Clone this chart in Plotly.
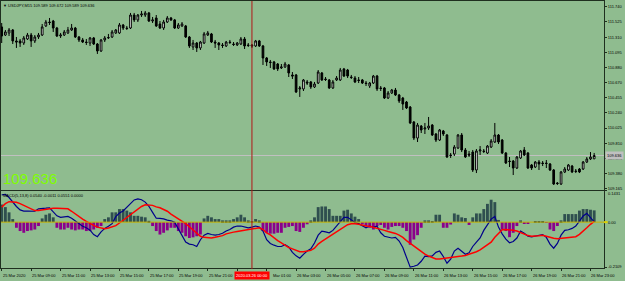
import plotly.graph_objects as go

# ---------------- data (USDJPY M15, bar index 0 = 25 Mar 07:00) ----------------
open_ = [111.454, 111.340, 111.369, 111.411, 111.256, 111.256, 111.227, 111.284, 111.340, 111.256,
         111.312, 111.340, 111.468, 111.524, 111.538, 111.439, 111.326, 111.340, 111.369, 111.411,
         111.439, 111.312, 111.270, 111.241, 111.227, 111.298, 111.213, 111.114, 111.270, 111.298,
         111.312, 111.369, 111.369, 111.482, 111.439, 111.439, 111.623, 111.553, 111.623, 111.623,
         111.652, 111.538, 111.581, 111.496, 111.439, 111.524, 111.581, 111.553, 111.439, 111.468,
         111.468, 111.312, 111.171, 111.227, 111.157, 111.227, 111.340, 111.355, 111.241, 111.227,
         111.199, 111.185, 111.241, 111.213, 111.199, 111.213, 111.284, 111.199, 111.199, 111.185,
         111.256, 111.185, 111.015, 110.959, 110.959, 110.930, 110.874, 110.888, 110.916, 110.775,
         110.775, 110.577, 110.577, 110.676, 110.676, 110.605, 110.661, 110.803, 110.718, 110.704,
         110.591, 110.704, 110.704, 110.860, 110.845, 110.746, 110.732, 110.704, 110.704, 110.661,
         110.619, 110.661, 110.760, 110.591, 110.591, 110.449, 110.520, 110.562, 110.492, 110.449,
         110.393, 110.322, 110.110, 109.883, 110.053, 110.011, 110.025, 110.067, 109.940, 109.855,
         109.983, 109.926, 109.643, 109.657, 109.742, 109.926, 109.714, 109.657, 109.685, 109.431,
         109.700, 109.700, 109.671, 109.756, 109.827, 109.926, 109.855, 109.671, 109.558, 109.558,
         109.459, 109.601, 109.714, 109.671, 109.502, 109.473, 109.544, 109.530, 109.530, 109.516,
         109.431, 109.247, 109.233, 109.403, 109.431, 109.487, 109.417, 109.445, 109.445, 109.544,
         109.587, 109.589]

high = [111.510, 111.411, 111.439, 111.425, 111.312, 111.284, 111.326, 111.369, 111.369, 111.340,
        111.369, 111.496, 111.553, 111.581, 111.553, 111.454, 111.369, 111.411, 111.454, 111.496,
        111.454, 111.326, 111.298, 111.284, 111.312, 111.312, 111.227, 111.284, 111.326, 111.355,
        111.411, 111.425, 111.510, 111.496, 111.468, 111.652, 111.652, 111.637, 111.680, 111.680,
        111.666, 111.595, 111.623, 111.538, 111.553, 111.609, 111.595, 111.567, 111.510, 111.524,
        111.482, 111.326, 111.270, 111.241, 111.256, 111.383, 111.397, 111.369, 111.270, 111.241,
        111.227, 111.256, 111.270, 111.241, 111.241, 111.312, 111.312, 111.227, 111.213, 111.270,
        111.270, 111.199, 111.029, 110.987, 110.973, 110.944, 110.930, 110.959, 110.930, 110.817,
        110.789, 110.619, 110.718, 110.704, 110.690, 110.676, 110.845, 110.817, 110.746, 110.718,
        110.704, 110.760, 110.874, 110.874, 110.860, 110.775, 110.760, 110.746, 110.718, 110.690,
        110.676, 110.775, 110.775, 110.619, 110.605, 110.548, 110.577, 110.591, 110.506, 110.464,
        110.407, 110.336, 110.124, 110.096, 110.067, 110.096, 110.181, 110.081, 109.954, 110.011,
        109.997, 109.940, 109.671, 109.784, 109.940, 109.954, 109.742, 109.700, 109.714, 109.728,
        109.770, 109.728, 109.784, 109.869, 110.096, 109.940, 109.869, 109.685, 109.615, 109.572,
        109.629, 109.714, 109.756, 109.685, 109.516, 109.558, 109.572, 109.558, 109.572, 109.530,
        109.445, 109.261, 109.417, 109.473, 109.516, 109.502, 109.445, 109.459, 109.558, 109.615,
        109.685, 109.672]

low = [111.227, 111.326, 111.326, 111.213, 111.157, 111.171, 111.199, 111.270, 111.171, 111.227,
       111.284, 111.326, 111.454, 111.482, 111.383, 111.312, 111.298, 111.326, 111.355, 111.397,
       111.298, 111.241, 111.227, 111.199, 111.185, 111.199, 111.072, 111.100, 111.241, 111.284,
       111.298, 111.355, 111.355, 111.411, 111.411, 111.425, 111.524, 111.524, 111.595, 111.595,
       111.524, 111.510, 111.454, 111.425, 111.411, 111.510, 111.538, 111.425, 111.425, 111.454,
       111.298, 111.157, 111.128, 111.100, 111.128, 111.213, 111.326, 111.227, 111.157, 111.128,
       111.157, 111.171, 111.213, 111.185, 111.185, 111.199, 111.142, 111.171, 111.157, 111.171,
       111.171, 110.916, 110.902, 110.874, 110.845, 110.831, 110.860, 110.874, 110.746, 110.718,
       110.520, 110.464, 110.548, 110.633, 110.577, 110.591, 110.647, 110.690, 110.690, 110.577,
       110.577, 110.690, 110.690, 110.746, 110.732, 110.718, 110.661, 110.661, 110.647, 110.619,
       110.591, 110.647, 110.548, 110.548, 110.435, 110.435, 110.506, 110.478, 110.379, 110.280,
       110.294, 110.081, 109.855, 109.827, 109.954, 109.940, 109.997, 109.912, 109.827, 109.841,
       109.912, 109.601, 109.601, 109.629, 109.728, 109.685, 109.601, 109.615, 109.403, 109.388,
       109.643, 109.671, 109.657, 109.742, 109.813, 109.799, 109.657, 109.516, 109.473, 109.360,
       109.445, 109.587, 109.629, 109.445, 109.431, 109.459, 109.431, 109.487, 109.459, 109.417,
       109.219, 109.219, 109.219, 109.388, 109.417, 109.388, 109.388, 109.388, 109.431, 109.530,
       109.572, 109.589]

close = [111.326, 111.383, 111.411, 111.256, 111.241, 111.227, 111.298, 111.340, 111.256, 111.312,
         111.340, 111.454, 111.524, 111.517, 111.439, 111.326, 111.340, 111.383, 111.411, 111.439,
         111.312, 111.270, 111.241, 111.234, 111.298, 111.213, 111.114, 111.270, 111.298, 111.305,
         111.383, 111.411, 111.482, 111.439, 111.432, 111.623, 111.553, 111.623, 111.637, 111.652,
         111.538, 111.553, 111.468, 111.439, 111.524, 111.581, 111.553, 111.439, 111.482, 111.496,
         111.312, 111.185, 111.227, 111.157, 111.241, 111.355, 111.369, 111.241, 111.227, 111.199,
         111.192, 111.241, 111.234, 111.206, 111.227, 111.284, 111.185, 111.192, 111.185, 111.256,
         111.185, 111.015, 110.959, 110.951, 110.860, 110.860, 110.888, 110.930, 110.803, 110.760,
         110.534, 110.591, 110.704, 110.661, 110.605, 110.647, 110.817, 110.704, 110.711, 110.591,
         110.676, 110.732, 110.845, 110.760, 110.760, 110.739, 110.676, 110.697, 110.661, 110.654,
         110.661, 110.760, 110.577, 110.584, 110.449, 110.520, 110.562, 110.492, 110.407, 110.364,
         110.308, 110.096, 109.883, 110.067, 109.997, 110.025, 110.053, 109.926, 109.855, 109.997,
         109.940, 109.615, 109.636, 109.756, 109.926, 109.714, 109.615, 109.643, 109.431, 109.700,
         109.714, 109.693, 109.770, 109.841, 109.926, 109.827, 109.671, 109.530, 109.551, 109.459,
         109.615, 109.700, 109.643, 109.459, 109.459, 109.544, 109.516, 109.523, 109.523, 109.431,
         109.233, 109.240, 109.403, 109.445, 109.502, 109.403, 109.410, 109.403, 109.544, 109.587,
         109.615, 109.636]

macd_hist = [0.081, 0.069, 0.045, 0.014, -0.026, -0.041, -0.049, -0.041, -0.038, -0.034,
             -0.018, 0.017, 0.034, 0.040, 0.022, -0.026, -0.034, -0.034, -0.026, -0.034,
             -0.038, -0.034, -0.034, -0.041, -0.041, -0.034, -0.026, -0.018, 0.014, 0.022,
             0.045, 0.045, 0.060, 0.060, 0.053, 0.045, 0.029, 0.029, 0.025, 0.022,
             0.006, -0.018, -0.041, -0.057, -0.049, -0.038, -0.026, -0.026, -0.041, -0.049,
             -0.065, -0.073, -0.070, -0.065, -0.057, 0.017, 0.029, 0.022, 0.014, 0.014,
             0.008, 0.008, 0.008, 0.014, 0.022, 0.034, 0.022, 0.008, 0.002, 0.014,
             0.008, -0.041, -0.049, -0.053, -0.053, -0.049, -0.049, -0.026, -0.022, -0.018,
             -0.041, -0.045, -0.026, -0.010, 0.008, 0.022, 0.069, 0.072, 0.072, 0.060,
             0.029, 0.029, 0.029, 0.053, 0.057, 0.040, 0.025, 0.014, -0.010, -0.018,
             -0.026, -0.034, -0.018, -0.013, -0.026, -0.034, -0.022, -0.018, -0.018, -0.026,
             -0.041, -0.104, -0.080, -0.060, -0.026, 0.008, 0.008, 0.002, 0.034, 0.034,
             -0.026, -0.026, -0.011, 0.040, 0.034, 0.022, 0.019, -0.013, 0.022, 0.040,
             0.040, 0.060, 0.084, 0.103, 0.092, 0.010, -0.034, -0.041, -0.069, -0.049,
             -0.018, 0.008, -0.008, -0.008, 0.000, 0.002, 0.002, 0.005, -0.003, -0.034,
             -0.041, -0.018, 0.008, 0.037, 0.037, 0.037, 0.037, 0.053, 0.060, 0.060,
             0.057, 0.054]

macd_blue = [0.125, 0.127, 0.113, 0.091, 0.072, 0.056, 0.051, 0.051, 0.052, 0.050,
             0.061, 0.061, 0.064, 0.066, 0.045, 0.029, 0.022, 0.023, 0.026, 0.018,
             0.006, -0.010, -0.019, -0.026, -0.037, -0.057, -0.067, -0.045, -0.029, -0.019,
             -0.007, 0.025, 0.042, 0.051, 0.069, 0.088, 0.102, 0.107, 0.103, 0.092,
             0.073, 0.045, 0.018, 0.017, 0.015, 0.009, 0.006, -0.001, -0.030, -0.065,
             -0.092, -0.101, -0.104, -0.112, -0.081, -0.060, -0.052, -0.057, -0.060, -0.057,
             -0.051, -0.041, -0.034, -0.023, -0.018, -0.018, -0.023, -0.026, -0.023, -0.018,
             -0.023, -0.041, -0.081, -0.098, -0.106, -0.112, -0.112, -0.104, -0.114, -0.139,
             -0.155, -0.166, -0.148, -0.133, -0.123, -0.096, -0.060, -0.041, -0.045, -0.049,
             -0.038, -0.019, 0.003, 0.022, 0.022, 0.012, -0.002, -0.007, -0.018, -0.026,
             -0.018, -0.023, -0.019, -0.049, -0.065, -0.070, -0.073, -0.070, -0.087, -0.117,
             -0.159, -0.207, -0.203, -0.197, -0.180, -0.156, -0.159, -0.155, -0.139, -0.133,
             -0.158, -0.189, -0.170, -0.133, -0.120, -0.133, -0.148, -0.141, -0.112, -0.092,
             -0.073, -0.038, -0.013, 0.014, 0.026, -0.023, -0.054, -0.078, -0.095, -0.089,
             -0.073, -0.041, -0.051, -0.065, -0.068, -0.065, -0.063, -0.057, -0.070, -0.101,
             -0.120, -0.098, -0.060, -0.038, -0.035, -0.029, -0.018, 0.006, 0.028, 0.040,
             0.022, 0.001]

macd_red = [0.069, 0.085, 0.094, 0.094, 0.091, 0.085, 0.077, 0.067, 0.058, 0.053,
            0.053, 0.056, 0.059, 0.064, 0.064, 0.064, 0.064, 0.062, 0.061, 0.050,
            0.037, 0.026, 0.014, 0.003, -0.007, -0.015, -0.023, -0.027, -0.030, -0.027,
            -0.023, -0.016, -0.004, 0.009, 0.022, 0.036, 0.048, 0.062, 0.072, 0.080,
            0.080, 0.077, 0.070, 0.066, 0.058, 0.050, 0.037, 0.026, 0.018, 0.007,
            -0.007, -0.021, -0.037, -0.051, -0.065, -0.070, -0.073, -0.073, -0.070, -0.067,
            -0.062, -0.054, -0.049, -0.046, -0.043, -0.040, -0.035, -0.032, -0.029, -0.026,
            -0.026, -0.034, -0.049, -0.059, -0.073, -0.085, -0.095, -0.106, -0.117, -0.123,
            -0.131, -0.136, -0.136, -0.133, -0.130, -0.120, -0.101, -0.089, -0.078, -0.068,
            -0.057, -0.048, -0.034, -0.023, -0.012, -0.008, -0.007, -0.010, -0.015, -0.018,
            -0.019, -0.023, -0.029, -0.034, -0.038, -0.043, -0.046, -0.052, -0.060, -0.070,
            -0.085, -0.098, -0.110, -0.123, -0.136, -0.147, -0.156, -0.164, -0.169, -0.169,
            -0.167, -0.166, -0.164, -0.163, -0.159, -0.156, -0.153, -0.148, -0.144, -0.136,
            -0.128, -0.117, -0.106, -0.092, -0.070, -0.051, -0.035, -0.034, -0.034, -0.037,
            -0.041, -0.049, -0.056, -0.062, -0.065, -0.065, -0.063, -0.060, -0.065, -0.070,
            -0.074, -0.076, -0.074, -0.073, -0.073, -0.071, -0.067, -0.056, -0.043, -0.026,
            -0.010, 0.003]

bars = list(range(len(close)))

price_ticks = [111.740, 111.525, 111.310, 111.095, 110.880, 110.670, 110.455,
               110.240, 110.025, 109.810, 109.595, 109.380, 109.165]
price_ticktext = ["111.740", "111.525", "111.310", "111.095", "110.880", "110.670", "110.455",
                  "110.240", "110.025", "109.810", "109.595", "109.380", "109.165"]
macd_ticks = [0.1431, 0.0, -0.2109]
macd_ticktext = ["0.1431", "0.00", "-0.2109"]

# time scale: label positions (bar index) and the visible label texts
time_idx = [0, 8, 16, 24, 32, 40, 48, 56, 64, 72, 80, 88, 96, 104, 112, 120, 128, 136, 144, 152, 160]
time_txt = ["25 Mar 2020", "25 Mar 09:00", "25 Mar 11:00", "25 Mar 13:00", "25 Mar 15:00",
            "25 Mar 17:00", "25 Mar 19:00", "25 Mar 21:00", "", "Mar 01:00",
            "26 Mar 03:00", "26 Mar 05:00", "26 Mar 07:00", "26 Mar 09:00", "26 Mar 11:00",
            "26 Mar 13:00", "26 Mar 15:00", "26 Mar 17:00", "26 Mar 19:00", "26 Mar 21:00",
            "26 Mar 23:00"]
# the "26 " of the 01:00 label is hidden by the vertical-line date box
time_shift = [0, 0, 0, 0, 0, 0, 0, 0, 0, 5, 0, 0, 0, 0, 0, 0, 0, 0, 0, 0, 0]

vline_idx = 68
vline_label = "2020.03.26 00:00"
last_price = 109.636
title_txt = "▼ USDJPY,M15 109.589 109.672 109.589 109.636"
macd_title = "MACD(5,13,8) 0.0540 -0.0011 0.0551 0.0000"

# ---------------- styling ----------------
BG = "#8fbc8f"
FRAME = "#1f2f1f"
FONT = "Liberation Sans"
X_RANGE = [-0.19, 163.67]
MAIN_RANGE = [109.148, 111.821]
MACD_RANGE = [-0.2109, 0.1431]
MAIN_DOMAIN = [0.2921, 1.0]
MACD_DOMAIN = [0.0, 0.2884]

fig = go.Figure()

fig.add_trace(go.Candlestick(
    x=bars, open=open_, high=high, low=low, close=close,
    increasing=dict(line=dict(color="#000000", width=1), fillcolor="#ffffff"),
    decreasing=dict(line=dict(color="#000000", width=1), fillcolor="#000000"),
    whiskerwidth=0, xaxis="x", yaxis="y", hoverinfo="skip"))

fig.add_trace(go.Bar(
    x=bars, y=macd_hist, width=0.78,
    marker=dict(color=["#2f4f4f" if v >= 0 else "#8b008b" for v in macd_hist], line=dict(width=0)),
    xaxis="x2", yaxis="y2", hoverinfo="skip"))
fig.add_trace(go.Scatter(x=bars, y=macd_blue, mode="lines",
                         line=dict(color="#00008b", width=1.2), xaxis="x2", yaxis="y2", hoverinfo="skip"))
fig.add_trace(go.Scatter(x=bars, y=macd_red, mode="lines",
                         line=dict(color="#ff0000", width=1.5), xaxis="x2", yaxis="y2", hoverinfo="skip"))

axis_common = dict(showgrid=False, zeroline=False, showline=True, mirror=True,
                   linecolor=FRAME, linewidth=1, fixedrange=True)

fig.update_layout(
    width=625, height=281,
    margin=dict(l=1, r=21, t=1, b=13),
    paper_bgcolor=BG, plot_bgcolor=BG,
    showlegend=False, hovermode=False, boxgap=0.35,
    font=dict(family=FONT, size=4, color="#000000"),
    xaxis=dict(domain=[0, 1], range=X_RANGE, anchor="y", showticklabels=False, ticks="",
               rangeslider=dict(visible=False), **axis_common),
    yaxis=dict(domain=MAIN_DOMAIN, range=MAIN_RANGE, anchor="x", side="right",
               tickvals=price_ticks, ticktext=price_ticktext, ticks="outside", ticklen=2,
               tickcolor=FRAME, tickfont=dict(size=4, family=FONT, color="#000000"), **axis_common),
    xaxis2=dict(domain=[0, 1], range=X_RANGE, anchor="y2", tickvals=time_idx,
                ticktext=[""] * len(time_idx), ticks="outside", ticklen=2, tickcolor=FRAME,
                **axis_common),
    yaxis2=dict(domain=MACD_DOMAIN, range=MACD_RANGE, anchor="x2", side="right",
                tickvals=macd_ticks, ticktext=[""] * len(macd_ticks), ticks="outside", ticklen=2,
                tickcolor=FRAME, **axis_common),
)

shapes = [
    # bid line
    dict(type="line", xref="paper", yref="y", x0=0, x1=1, y0=last_price, y1=last_price,
         line=dict(color="#c0c0c0", width=1), layer="below"),
    # MACD zero level
    dict(type="line", xref="paper", yref="y2", x0=0, x1=1, y0=0, y1=0,
         line=dict(color="#c8b400", width=1), layer="above"),
    dict(type="line", xref="paper", yref="y2", x0=1, x1=1.006, y0=0, y1=0,
         line=dict(color="#e0d000", width=2), layer="above"),
    # vertical line
    dict(type="line", xref="x", yref="paper", x0=vline_idx, x1=vline_idx, y0=-0.004, y1=1,
         line=dict(color="#b01818", width=1), layer="above"),
]
fig.update_layout(shapes=shapes)

annotations = []
for idx, txt, sh in zip(time_idx, time_txt, time_shift):
    if not txt:
        continue
    annotations.append(dict(x=idx, xref="x2", xshift=sh, y=-0.027, yref="paper", text=txt,
                            showarrow=False, xanchor="left", yanchor="middle", borderpad=0,
                            font=dict(size=4, family=FONT, color="#000000")))
annotations.append(dict(x=vline_idx, xref="x2", y=-0.027, yref="paper", text=vline_label,
                        showarrow=False, xanchor="center", yanchor="middle", bgcolor="#ff0000",
                        borderpad=1, font=dict(size=4, family=FONT, color="#ffffff")))
# MACD scale labels (top label sits just below the window edge, as in the terminal)
macd_shift = [-3, 0, 1]
for val, txt, sh in zip(macd_ticks, macd_ticktext, macd_shift):
    annotations.append(dict(x=1, xref="paper", xshift=3, y=val, yref="y2", yshift=sh, text=txt,
                            showarrow=False, xanchor="left", yanchor="middle", borderpad=0,
                            font=dict(size=4, family=FONT, color="#000000")))
annotations.append(dict(x=0, xref="paper", xshift=1, y=1, yref="paper", yshift=-1, text=title_txt,
                        showarrow=False, xanchor="left", yanchor="top", borderpad=0,
                        font=dict(size=4, family=FONT, color="#000000")))
annotations.append(dict(x=0, xref="paper", xshift=1, y=MACD_DOMAIN[1], yref="paper", yshift=-1,
                        text=macd_title, showarrow=False, xanchor="left", yanchor="top", borderpad=0,
                        font=dict(size=4, family=FONT, color="#000000")))
annotations.append(dict(x=0, xref="paper", xshift=1, y=109.289, yref="y", yshift=2, text="109.636",
                        showarrow=False, xanchor="left", yanchor="middle", borderpad=0,
                        font=dict(size=15, family=FONT, color="#7fff00")))
annotations.append(dict(x=1, xref="paper", xshift=1, y=last_price, yref="y", text="109.636",
                        showarrow=False, xanchor="left", yanchor="middle", bgcolor="#c0c0c0",
                        borderpad=1, font=dict(size=4, family=FONT, color="#000000")))
fig.update_layout(annotations=annotations)

fig.write_html("out.html")
